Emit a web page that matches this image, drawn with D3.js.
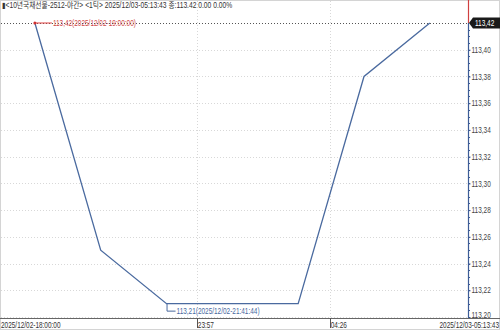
<!DOCTYPE html>
<html lang="ko">
<head>
<meta charset="UTF-8">
<title>10년국채선물</title>
<script src="https://cdnjs.cloudflare.com/ajax/libs/d3/7.8.5/d3.min.js"></script>
<style>
  body { margin: 0; background: #fff; }
  svg text { font-family: "Liberation Sans", "Noto Sans CJK KR", sans-serif; font-size: 8.5px; }
</style>
</head>
<body>
<script>
// data
const title = "▮<10년국채선물-2512-야간> <1틱> 2025/12/03-05:13:43 종:113.42 0.00 0.00%"
const prices = [113.42, 113.25, 113.21, 113.21, 113.21, 113.38, 113.42]
const yTicks = [113.20, 113.22, 113.24, 113.26, 113.28, 113.30, 113.32, 113.34, 113.36, 113.38, 113.40]
const xLabels = ["23:57", "04:26"]
const xLabelPos = [2.46, 4.48]
const startLabel = "2025/12/02-18:00:00"
const endLabel = "2025/12/03-05:13:43"
const maxLabel = "113,42(2025/12/02-19:00:00)"
const minLabel = "113,21(2025/12/02-21:41:44)"
const lastPrice = 113.42

let width = 500
let height = 330
let plotR = 468, plotT = 23, plotB = 317, axisY = 318
let sx = 0.76 // narrow the glyphs, the original uses a condensed bitmap font

let svg = d3.select("body").append("svg")
    .attr("width", width)
    .attr("height", height)

let x = d3.scaleLinear().domain([-0.53, 6.58]).range([0, plotR])
let y = d3.scaleLinear().domain([113.20, 113.42]).range([plotB, plotT])

const fmt = v => v.toFixed(2).replace(".", ",")

function label(px, py, str, color, anchor, k) {
    return svg.append("text")
        .attr("transform", `translate(${px},${py}) scale(${k || sx},1)`)
        .attr("text-anchor", anchor || "start")
        .attr("fill", color)
        .text(str)
}

// frame
svg.append("rect").attr("x", 0.5).attr("y", 0.5).attr("width", width - 1).attr("height", height - 1)
    .attr("fill", "none").attr("stroke", "#d4d4d4")

// horizontal grid
svg.selectAll(".hg").data(yTicks).join("line")
    .attr("x1", 1).attr("x2", plotR)
    .attr("y1", d => Math.round(y(d)) + 0.5).attr("y2", d => Math.round(y(d)) + 0.5)
    .attr("stroke", "#d8d8d8").attr("stroke-dasharray", "1,2")

// vertical grid
svg.selectAll(".vg").data(xLabelPos).join("line")
    .attr("x1", d => Math.round(x(d)) + 0.5).attr("x2", d => Math.round(x(d)) + 0.5)
    .attr("y1", 1).attr("y2", axisY)
    .attr("stroke", "#d8d8d8").attr("stroke-dasharray", "1,2")

// last price line
svg.append("line").attr("x1", 1).attr("x2", plotR)
    .attr("y1", Math.round(y(lastPrice)) + 0.5).attr("y2", Math.round(y(lastPrice)) + 0.5)
    .attr("stroke", "#555").attr("stroke-dasharray", "1,2")

// series
let line = d3.line().x((d, i) => x(i)).y(d => y(d))
svg.append("path").datum(prices)
    .attr("d", line).attr("fill", "none")
    .attr("stroke", "#4a6a9f").attr("stroke-width", 1.3)

// max marker
let iMax = prices.indexOf(d3.max(prices))
let mx = x(iMax), my = y(prices[iMax])
svg.append("line").attr("x1", mx).attr("x2", mx + 17).attr("y1", my).attr("y2", my)
    .attr("stroke", "#e04040")
svg.append("circle").attr("cx", mx).attr("cy", my).attr("r", 1.5).attr("fill", "#d03030")
label(mx + 18, my + 3, maxLabel, "#d04848")

// min marker
let iMin = prices.indexOf(d3.min(prices))
let nx = x(iMin), ny = y(prices[iMin])
svg.append("path").attr("d", `M${nx + 0.5},${ny} V${ny + 7.5} H${nx + 9}`)
    .attr("fill", "none").attr("stroke", "#4a6a9f")
label(nx + 10, ny + 10.5, minLabel, "#4a6a9f")

// right axis
svg.append("line").attr("x1", plotR + 0.5).attr("x2", plotR + 0.5).attr("y1", 0).attr("y2", y(lastPrice))
    .attr("stroke", "#d04040").attr("stroke-width", 1.2)
svg.append("line").attr("x1", plotR + 0.5).attr("x2", plotR + 0.5).attr("y1", y(lastPrice)).attr("y2", axisY)
    .attr("stroke", "#3d5c96").attr("stroke-width", 1.2)

let yAxis = d3.axisRight(y).tickValues(yTicks).tickSize(2).tickPadding(1).tickFormat(fmt)
let ga = svg.append("g").attr("transform", `translate(${plotR + 0.5},0)`).call(yAxis)
ga.select(".domain").remove()
ga.selectAll("line").attr("stroke", "#3d5c96")
ga.selectAll("text").attr("fill", "#444")
    .attr("transform", `scale(${sx},1)`)
    .attr("x", 3 / sx)
// the bottom label sits on the axis line, as in the original
ga.selectAll(".tick").filter(d => d === yTicks[0]).select("text").attr("dy", "0.1em")

let minor = d3.range(113.20, 113.42, 0.005)
svg.selectAll(".mt").data(minor).join("line")
    .attr("x1", plotR).attr("x2", plotR + 2)
    .attr("y1", d => Math.round(y(d)) + 0.5).attr("y2", d => Math.round(y(d)) + 0.5)
    .attr("stroke", "#3d5c96")

// current price tag
let ly = y(lastPrice)
svg.append("path").attr("d", `M${plotR + 1},${ly} L${plotR + 5},${ly - 5.5} H${width} V${ly + 5.5} H${plotR + 5} Z`)
    .attr("fill", "#1a1a1a")
label(plotR + 7, ly + 3, fmt(lastPrice), "#fff")

// x axis
svg.append("line").attr("x1", 0).attr("x2", width).attr("y1", axisY + 0.5).attr("y2", axisY + 0.5)
    .attr("stroke", "#666")
svg.selectAll(".xt").data(xLabelPos).join("line")
    .attr("x1", d => Math.round(x(d)) + 0.5).attr("x2", d => Math.round(x(d)) + 0.5)
    .attr("y1", axisY).attr("y2", axisY + 10)
    .attr("stroke", "#555")
xLabels.forEach((d, i) => label(x(xLabelPos[i]) + 1, 327.5, d, "#333"))
label(1, 327.5, startLabel, "#333")
label(width - 1, 327.5, endLabel, "#333", "end")

// title
label(2, 8, title, "#333", "start", 0.79)
</script>
</body>
</html>
